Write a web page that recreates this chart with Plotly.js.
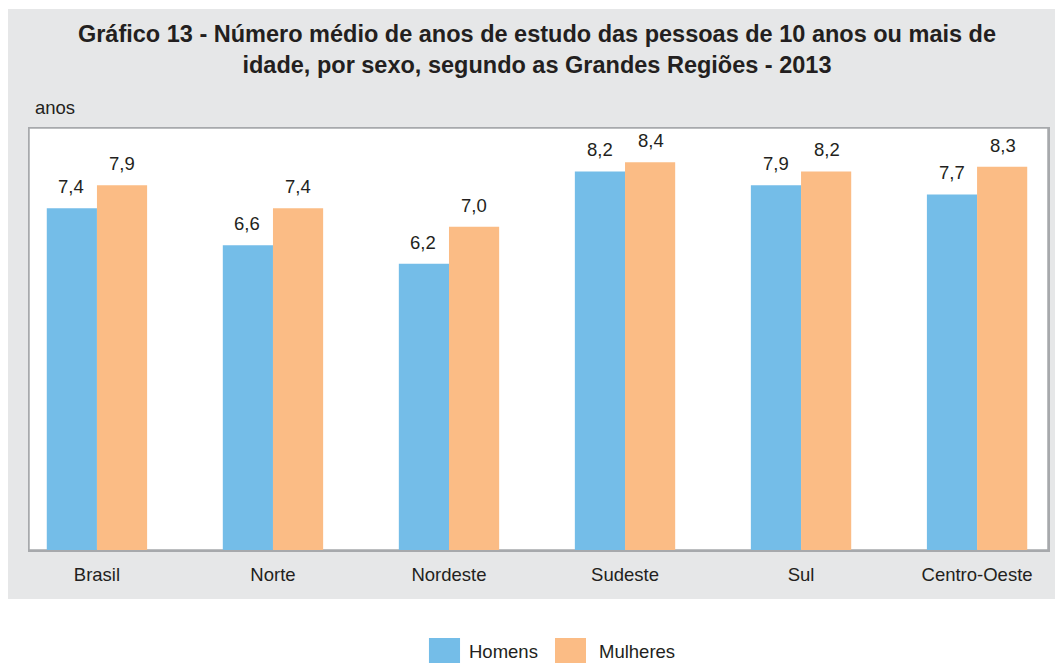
<!DOCTYPE html>
<html>
<head>
<meta charset="utf-8">
<script src="https://cdn.plot.ly/plotly-3.0.1.min.js"></script>
<style>html,body{margin:0;padding:0;background:#fff;}#chart{width:1055px;height:663px;}</style>
</head>
<body>
<div id="chart"></div>
<script>
const regions = ["Brasil", "Norte", "Nordeste", "Sudeste", "Sul", "Centro-Oeste"];
const homens = [7.4, 6.6, 6.2, 8.2, 7.9, 7.7];
const mulheres = [7.9, 7.4, 7.0, 8.4, 8.2, 8.3];
const seriesNames = ["Homens", "Mulheres"];
const yUnit = "anos";
const titleText = "Gráfico 13 - Número médio de anos de estudo das pessoas de 10 anos ou mais de<br>idade, por sexo, segundo as Grandes Regiões - 2013";

const BLUE = "#74bde8", ORANGE = "#fbbc85", INK = "#231f20";
const FONT = "Liberation Sans, Arial, sans-serif";
const fmt = v => v.toFixed(1).replace(".", ",");

const traces = [
  {type: "bar", name: seriesNames[0], x: regions, y: homens, marker: {color: BLUE}, hoverinfo: "none"},
  {type: "bar", name: seriesNames[1], x: regions, y: mulheres, marker: {color: ORANGE}, hoverinfo: "none"}
];

const annotations = [];
[homens, mulheres].forEach((vals, s) => {
  vals.forEach((v, i) => {
    annotations.push({
      x: regions[i], y: v, xref: "x", yref: "y", text: fmt(v), showarrow: false,
      xshift: s === 0 ? -25.5 : 25.5, yshift: 9, yanchor: "bottom",
      font: {family: FONT, size: 18.5, color: INK}
    });
  });
});
annotations.push({xref: "paper", yref: "paper", x: 0.004, y: 1.018, xanchor: "left", yanchor: "bottom",
  text: yUnit, showarrow: false, font: {family: FONT, size: 18.5, color: INK}});
// legend labels
annotations.push({xref: "paper", yref: "paper", x: 0.4300, y: -0.2417, xanchor: "left", yanchor: "middle",
  text: seriesNames[0], showarrow: false, font: {family: FONT, size: 18.5, color: INK}});
annotations.push({xref: "paper", yref: "paper", x: 0.5575, y: -0.2417, xanchor: "left", yanchor: "middle",
  text: seriesNames[1], showarrow: false, font: {family: FONT, size: 18.5, color: INK}});

const shapes = [
  {type: "rect", xref: "paper", yref: "paper", x0: -0.0206, x1: 1.0069, y0: -0.116, y1: 1.282,
   fillcolor: "#e6e7e8", line: {width: 0}, layer: "below"},
  {type: "rect", xref: "paper", yref: "paper", x0: 0, x1: 1, y0: 0, y1: 1,
   fillcolor: "#ffffff", line: {color: "#a7a9ac", width: 1.5}, layer: "below"},
  {type: "rect", xref: "paper", yref: "paper", x0: 0.3925, x1: 0.4230, y0: -0.2678, y1: -0.2085,
   fillcolor: BLUE, line: {width: 0}},
  {type: "rect", xref: "paper", yref: "paper", x0: 0.5162, x1: 0.5466, y0: -0.2678, y1: -0.2085,
   fillcolor: ORANGE, line: {width: 0}}
];

const layout = {
  width: 1055, height: 663,
  margin: {l: 29, r: 7, t: 128, b: 113, pad: 0},
  paper_bgcolor: "#ffffff", plot_bgcolor: "rgba(0,0,0,0)",
  showlegend: false,
  barmode: "group", bargap: 0.43, bargroupgap: 0,
  title: {text: titleText, x: 0.509, xref: "container", xanchor: "center",
    y: 1 - 42 / 663, yref: "container", yanchor: "top",
    font: {family: FONT, size: 23.5, color: INK, weight: "bold"}},
  xaxis: {type: "category", range: [-0.386, 5.403], showgrid: false, zeroline: false,
    showline: true, linecolor: "#a7a9ac", linewidth: 1.5, mirror: true, ticks: "",
    ticklabelstandoff: 7, tickfont: {family: FONT, size: 18.5, color: INK}, fixedrange: true},
  yaxis: {range: [0, 9.14], showgrid: false, zeroline: false, showticklabels: false,
    showline: true, linecolor: "#a7a9ac", linewidth: 1.5, mirror: true, ticks: "", fixedrange: true},
  annotations: annotations,
  shapes: shapes
};

Plotly.newPlot("chart", traces, layout, {staticPlot: true, displayModeBar: false});
</script>
</body>
</html>
